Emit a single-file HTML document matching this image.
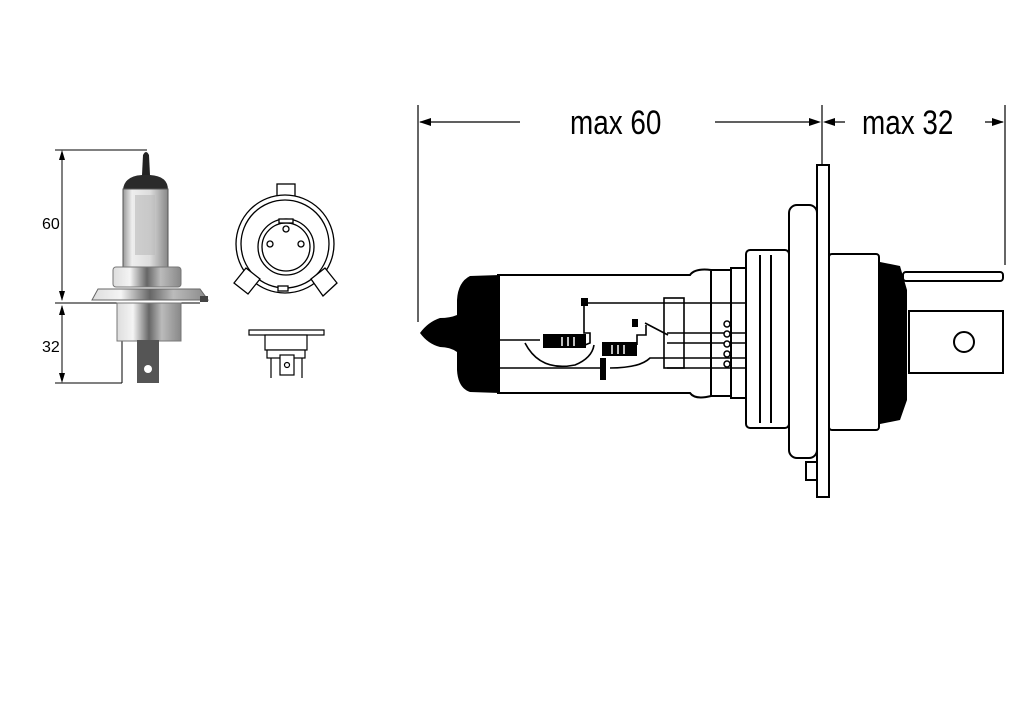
<!DOCTYPE html>
<html><head><meta charset="utf-8"><style>
html,body{margin:0;padding:0;background:#fff;width:1024px;height:722px;overflow:hidden}
</style></head><body>
<svg width="1024" height="722" viewBox="0 0 1024 722" xmlns="http://www.w3.org/2000/svg">
<defs>
<linearGradient id="chrome" x1="0" x2="1" y1="0" y2="0">
<stop offset="0" stop-color="#ddd"/><stop offset="0.25" stop-color="#f4f4f4"/><stop offset="0.5" stop-color="#666"/><stop offset="0.7" stop-color="#bbb"/><stop offset="1" stop-color="#888"/>
</linearGradient>
<linearGradient id="glass" x1="0" x2="1" y1="0" y2="0">
<stop offset="0" stop-color="#999"/><stop offset="0.2" stop-color="#eee"/><stop offset="0.6" stop-color="#ddd"/><stop offset="1" stop-color="#888"/>
</linearGradient>
</defs>
<!-- LEFT PHOTO -->
<g stroke="#000" stroke-width="1" fill="none">
<line x1="55" y1="150" x2="147" y2="150"/>
<line x1="55" y1="303" x2="200" y2="303"/>
<line x1="55" y1="383" x2="122" y2="383"/>
<line x1="122" y1="383" x2="122" y2="340"/>
<line x1="62" y1="152" x2="62" y2="300"/>
<line x1="62" y1="306" x2="62" y2="381"/>
</g>
<g fill="#000">
<polygon points="62,150 59,160 65,160"/><polygon points="62,301 59,291 65,291"/>
<polygon points="62,305 59,315 65,315"/><polygon points="62,383 59,373 65,373"/>
</g>
<text x="42" y="229" font-family="Liberation Sans Narrow, Liberation Sans, sans-serif" font-size="16">60</text>
<text x="42" y="352" font-family="Liberation Sans Narrow, Liberation Sans, sans-serif" font-size="16">32</text>
<path d="M142,175 L143,155 Q146,149 149,155 L150,175 Z" fill="#222"/>
<path d="M123,190 Q124,176 142,175 L150,175 Q168,176 168,190 Z" fill="#2a2a2a"/>
<rect x="123" y="189" width="45" height="78" fill="url(#glass)" stroke="#555"/>
<rect x="135" y="195" width="20" height="60" fill="#bbb" opacity="0.6"/>
<rect x="113" y="267" width="68" height="20" rx="3" fill="url(#chrome)" stroke="#777"/>
<path d="M92,300 L98,289 L200,289 L208,300 Z" fill="url(#chrome)" stroke="#666"/>
<rect x="117" y="303" width="64" height="38" fill="url(#chrome)" stroke="#777"/>
<rect x="137" y="340" width="22" height="43" fill="#555"/>
<circle cx="148" cy="369" r="4" fill="#fff"/>
<rect x="200" y="296" width="8" height="6" fill="#444"/>
<!-- ring view -->
<g stroke="#000" stroke-width="1.3" fill="#fff">
<rect x="277" y="184" width="18" height="16"/>
<circle cx="285" cy="244" r="49"/>
<circle cx="285" cy="244" r="44" fill="none"/>
<circle cx="286" cy="247" r="28"/>
<circle cx="286" cy="247" r="24" fill="none"/>
<polygon points="234,283 246,268 260,279 248,294"/>
<polygon points="311,279 325,268 337,283 323,296"/>
<circle cx="286" cy="229" r="3"/><circle cx="270" cy="244" r="3"/><circle cx="301" cy="244" r="3"/>
<rect x="278" y="286" width="10" height="5"/>
<rect x="279" y="219" width="14" height="4"/>
</g>
<g stroke="#000" stroke-width="1.2" fill="#fff">
<rect x="249" y="330" width="75" height="5"/>
<rect x="265" y="335" width="42" height="15"/>
<rect x="267" y="350" width="38" height="8"/>
<rect x="280" y="355" width="14" height="20"/>
<line x1="271" y1="358" x2="271" y2="378"/><line x1="302" y1="358" x2="302" y2="378"/>
<circle cx="287" cy="365" r="2.5"/>
</g>
<!-- RIGHT DRAWING: dimensions -->
<g stroke="#000" stroke-width="1.2" fill="none">
<line x1="418" y1="105" x2="418" y2="322"/>
<line x1="1005" y1="105" x2="1005" y2="265"/>
<line x1="822" y1="105" x2="822" y2="165"/>
<line x1="420" y1="122" x2="520" y2="122"/>
<line x1="715" y1="122" x2="818" y2="122"/>
<line x1="826" y1="122" x2="845" y2="122"/>
<line x1="985" y1="122" x2="1003" y2="122"/>
</g>
<g fill="#000">
<polygon points="419,122 431,118 431,126"/>
<polygon points="821,122 809,118 809,126"/>
<polygon points="823,122 835,118 835,126"/>
<polygon points="1004,122 992,118 992,126"/>
</g>
<text x="570" y="134" font-family="Liberation Sans Narrow, Liberation Sans, sans-serif" font-size="34" transform="translate(570 0) scale(0.82 1) translate(-570 0)">max 60</text>
<text x="862" y="134" font-family="Liberation Sans Narrow, Liberation Sans, sans-serif" font-size="34" transform="translate(862 0) scale(0.82 1) translate(-862 0)">max 32</text>
<!-- bulb drawing -->
<g stroke="#000" stroke-width="2" fill="#fff">
<rect x="789" y="205" width="28" height="253" rx="8"/>
<rect x="746" y="250" width="43" height="178" rx="4"/>
<line x1="760" y1="255" x2="760" y2="423"/>
<line x1="771" y1="255" x2="771" y2="423"/>
<rect x="817" y="165" width="12" height="332"/>
<rect x="806" y="462" width="11" height="18"/>
<rect x="829" y="254" width="50" height="176" rx="3"/>
<rect x="903" y="272" width="100" height="9" rx="3"/>
<rect x="909" y="311" width="94" height="62"/>
<circle cx="964" cy="342" r="10"/>
<rect x="731" y="268" width="15" height="130"/>
<rect x="711" y="270" width="20" height="126"/>
<path d="M498,275 L690,275 Q695,268 711,270 L711,396 Q695,400 690,393 L498,393 Z"/>
</g>
<path d="M880,262 L900,266 L907,290 L907,400 L900,420 L880,424 Z" fill="#000"/>
<path d="M500,275 L470,276 Q458,282 457,300 L457,315 Q450,318 440,318 Q428,322 420,333 Q428,344 440,347 Q450,347 457,352 L457,370 Q458,388 470,392 L500,393 Z" fill="#000"/>
<!-- inner wires -->
<g stroke="#000" stroke-width="1.6" fill="none">
<line x1="584" y1="303" x2="746" y2="303"/>
<line x1="500" y1="340" x2="540" y2="340"/>
<line x1="500" y1="368" x2="600" y2="368"/>
<line x1="667" y1="333" x2="746" y2="333"/>
<line x1="667" y1="343" x2="746" y2="343"/>
<path d="M610,368 Q640,368 650,358 L746,358"/>
<line x1="667" y1="368" x2="746" y2="368"/>
<rect x="664" y="298" width="20" height="70"/>
<path d="M584,303 L584,333 L590,333 L590,343 L585,345"/>
<path d="M637,345 L637,335 L646,335 L646,325"/>
<path d="M525,343 Q540,372 575,365 Q592,358 594,345"/>
<line x1="645" y1="323" x2="668" y2="335"/>
</g>
<g fill="#000">
<rect x="581" y="298" width="7" height="8"/>
<rect x="543" y="334" width="43" height="14"/>
<rect x="602" y="342" width="35" height="14"/>
<rect x="600" y="358" width="6" height="22"/>
<rect x="632" y="319" width="6" height="8"/>
</g>
<g stroke="#fff" stroke-width="1.5">
<line x1="562" y1="337" x2="562" y2="346"/><line x1="568" y1="337" x2="568" y2="346"/><line x1="574" y1="337" x2="574" y2="346"/>
<line x1="612" y1="345" x2="612" y2="354"/><line x1="618" y1="345" x2="618" y2="354"/><line x1="624" y1="345" x2="624" y2="354"/>
</g>
<g fill="#fff" stroke="#000" stroke-width="1.5">
<circle cx="727" cy="324" r="3"/><circle cx="727" cy="334" r="3"/><circle cx="727" cy="344" r="3"/><circle cx="727" cy="354" r="3"/><circle cx="727" cy="364" r="3"/>
</g>
</svg>
</body></html>
